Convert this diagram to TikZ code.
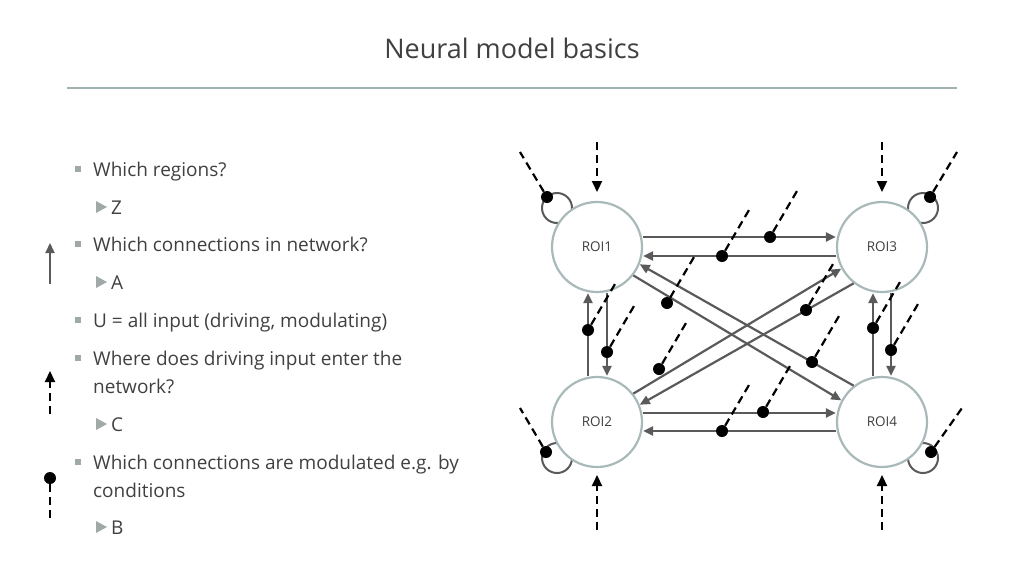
\documentclass[tikz,border=0pt]{standalone}
\usepackage{fontspec}
\setmainfont{Open Sans}
\usetikzlibrary{arrows.meta}
\definecolor{txt}{HTML}{404040}
\definecolor{ln}{HTML}{5A5A5A}
\definecolor{ring}{HTML}{A9B9B9}
\definecolor{rule}{HTML}{9FB1B1}
\definecolor{bul}{HTML}{A0A8A8}
\begin{document}
\begin{tikzpicture}[x=1pt,y=-1pt,
  roi/.style={circle,draw=ring,line width=2.2pt,fill=white,minimum size=90pt,inner sep=0pt,font=\fontsize{13.5}{15}\selectfont,text=txt},
  con/.style={draw=ln,line width=2.2pt,-{Triangle[length=10pt,width=9pt]}},
  loopl/.style={draw=ln,line width=2pt},
  mdot/.style={circle,fill=black,minimum size=12pt,inner sep=0pt},
  mod/.style={draw=black,line width=2.2pt,dash pattern=on 8pt off 5pt},
  drv/.style={draw=black,line width=2.2pt,dash pattern=on 8pt off 5pt,-{Triangle[length=11pt,width=10pt]}},
  bt/.style={anchor=base west,font=\fontsize{19}{23}\selectfont,text=txt,inner sep=0pt},
  sq/.style={fill=bul,minimum size=6pt,inner sep=0pt}]
\useasboundingbox (0,0) rectangle (1024,576);
\node[font=\fontsize{27}{32}\selectfont,text=txt] (title) at (512,48) {Neural model basics};
\draw[rule,line width=2.5pt] (67,88) coordinate (ra) -- (957,88) coordinate (rb);

% bullets
\foreach \y/\t [count=\i] in {176/Which regions?,251/Which connections in network?,327/{U = all input (driving, modulating)},365/Where does driving input enter the,469/Which connections are modulated e.g. by}{
  \node[sq] (b\i) at (78,\y-7) {};
  \node[bt] (t\i) at (93,\y) {\t};}
\node[bt] (t4b) at (93,393) {network?};
\node[bt] (t5b) at (93,497) {conditions};
\foreach \y/\t [count=\i] in {214/Z,289/A,431/C,534/B}{
  \fill[bul] (96,\y-13) -- (107,\y-7) -- (96,\y-1) -- cycle;
  \node[bt] (s\i) at (111,\y) {\t};}

% legend icons
\coordinate (ia1) at (50,284); \coordinate (ia2) at (50,243);
\draw[con] (ia1) -- (ia2);
\coordinate (id1) at (50,414); \coordinate (id2) at (50,371);
\draw[drv] (id1) -- (id2);
\node[mdot] (im) at (50,478) {};
\coordinate (im2) at (50,520);
\draw[mod] (im) -- (im2);

% self loops
\draw[loopl] (557,208) circle (15);
\draw[loopl] (923,208) circle (15);
\draw[loopl] (557,458) circle (15);
\draw[loopl] (923,458) circle (15);

\node[roi] (r1) at (597,247) {ROI1};
\node[roi] (r3) at (882,247) {ROI3};
\node[roi] (r2) at (597,422) {ROI2};
\node[roi] (r4) at (882,422) {ROI4};

% connections
\draw[con] ([yshift=10pt]r1.east) -- ([yshift=10pt]r3.west);
\draw[con] ([yshift=-9pt]r3.west) -- ([yshift=-9pt]r1.east);
\draw[con] ([yshift=9pt]r2.east) -- ([yshift=9pt]r4.west);
\draw[con] ([yshift=-9pt]r4.west) -- ([yshift=-9pt]r2.east);
\draw[con] ([xshift=-9pt]r2.north) -- ([xshift=-9pt]r1.south);
\draw[con] ([xshift=10pt]r1.south) -- ([xshift=10pt]r2.north);
\draw[con] ([xshift=-9pt]r4.north) -- ([xshift=-9pt]r3.south);
\draw[con] ([xshift=9pt]r3.south) -- ([xshift=9pt]r4.north);
\draw[con] (r1.-38) -- (r4.152);
\draw[con] (r4.128) -- (r1.-22);
\draw[con] (r2.38) -- (r3.-152);
\draw[con] (r3.-128) -- (r2.22);

% modulations
\foreach \x/\y [count=\i] in {770/237,722/256,763/412,722/431,667/303,806/310,659/369,812/362,588/330,607/352,873/328,891/350}{
  \node[mdot] (m\i) at (\x,\y) {};
  \coordinate (me\i) at (\x+27,\y-46);
  \draw[mod] (m\i) -- (me\i);}

% loop modulations
\node[mdot] (l1) at (547,197) {}; \coordinate (le1) at (520,152); \draw[mod] (l1) -- (le1);
\node[mdot] (l3) at (930,197) {}; \coordinate (le3) at (957,152); \draw[mod] (l3) -- (le3);
\node[mdot] (l2) at (546,452) {}; \coordinate (le2) at (520,408); \draw[mod] (l2) -- (le2);
\node[mdot] (l4) at (931,452) {}; \coordinate (le4) at (962,408); \draw[mod] (l4) -- (le4);

% driving inputs
\coordinate (d1) at (597,142); \draw[drv] (d1) -- (r1.north |- 0,192);
\coordinate (d3) at (882,142); \draw[drv] (d3) -- (r3.north |- 0,192);
\coordinate (d2) at (597,530); \draw[drv] (d2) -- (r2.south |- 0,475);
\coordinate (d4) at (882,530); \draw[drv] (d4) -- (r4.south |- 0,475);
\end{tikzpicture}
\end{document}
